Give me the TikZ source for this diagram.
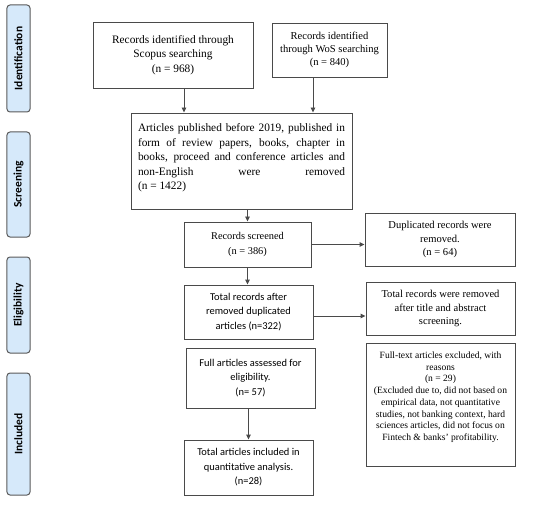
\documentclass[tikz,border=0pt]{standalone}
\usepackage{fontspec}
\setmainfont{Liberation Serif}
\newfontfamily\calfont{Carlito}
\usetikzlibrary{arrows.meta}
\definecolor{lineg}{HTML}{4A4A4A}
\definecolor{sidefill}{HTML}{D6E9FA}
\definecolor{sideline}{HTML}{5A5A5A}
\tikzset{
  box/.style={draw=lineg, line width=0.9bp, inner sep=2bp, align=center, text=black},
  side/.style={draw=sideline, line width=1bp, fill=sidefill, rounded corners=3bp, minimum height=23bp, inner sep=0pt, rotate=90, font=\calfont\bfseries\fontsize{11.5}{13}\selectfont},
  arr/.style={draw=lineg, line width=0.9bp, -{Triangle[length=5bp,width=4.5bp]}},
  serA/.style={font=\fontsize{11.4}{14.5}\selectfont},
  serB/.style={font=\fontsize{10.6}{13.2}\selectfont},
  sansA/.style={font=\calfont\fontsize{10.5}{14.5}\selectfont},
}
\begin{document}
\begin{tikzpicture}[x=1bp,y=-1bp]
\useasboundingbox (0,0) rectangle (550,529);
% side labels
\node[side, minimum width=107bp] (sid) at (18.5,58.5) {Identification};
\node[side, minimum width=105bp] (ssc) at (18.5,184.5) {Screening};
\node[side, minimum width=96bp] (sel) at (18.5,305) {Eligibility};
\node[side, minimum width=122bp] (sin) at (18.5,434) {Included};
% boxes
\node[box, serA, minimum width=160bp, minimum height=66bp] (scopus) at (173,55) {Records identified through\\Scopus searching\\(n = 968)};
\node[box, serB, minimum width=115bp, minimum height=54bp] (wos) at (329.5,50) {Records identified\\through WoS searching\\(n = 840)};
\node[box, minimum width=221bp, minimum height=96bp] (art) at (241.5,161) {};
\node[serA, text width=207bp, align=justify, anchor=north, inner sep=0pt] (artt) at ([yshift=-11bp]art.north) {Articles published before 2019, published in\linebreak form of review papers, books, chapter in\linebreak books, proceed and conference articles and\linebreak non-English were removed\linebreak (n = 1422)};
\node[box, serB, font=\fontsize{10.4}{15.5}\selectfont, minimum width=127bp, minimum height=45bp] (scr) at (247.5,244.5) {Records screened\\(n = 386)};
\node[box, serB, minimum width=150bp, minimum height=53bp] (dup) at (440,239.5) {Duplicated records were\\removed.\\(n = 64)};
\node[box, sansA, minimum width=129bp, minimum height=54bp] (tot) at (248.5,312) {Total records after\\removed duplicated\\articles (n=322)};
\node[box, serB, minimum width=149bp, minimum height=53bp] (rem) at (440.5,308.5) {Total records were removed\\after title and abstract\\screening.};
\node[box, sansA, minimum width=129bp, minimum height=60bp] (full) at (250.5,378) {Full articles assessed for\\eligibility.\\(n= 57)};
\node[box, minimum width=149bp, minimum height=123bp] (exc) at (440.5,404.5) {};
\node[font=\fontsize{9.6}{11.8}\selectfont, align=center, anchor=north, inner sep=0pt] (exct) at ([yshift=-9bp]exc.north) {Full-text articles excluded, with\\reasons\\(n = 29)\\(Excluded due to, did not based on\\empirical data, not quantitative\\studies, not banking context, hard\\sciences articles, did not focus on\\Fintech \& banks' profitability.};
\node[box, sansA, minimum width=129bp, minimum height=55bp] (inc) at (248.5,467.5) {Total articles included in\\quantitative analysis.\\(n=28)};
% arrows
\draw[arr] ([xshift=11bp]scopus.south) -- ([xshift=11bp]scopus.south |- art.north);
\draw[arr] ([xshift=-16.5bp]wos.south) -- ([xshift=-16.5bp]wos.south |- art.north);
\draw[arr] (art.south -| scr.north) -- (scr.north);
\draw[arr] (scr.east) -- (scr.east -| dup.west);
\draw[arr] (scr.south) -- (scr.south |- tot.north);
\draw[arr] ([yshift=-4bp]tot.east) -- ([yshift=-4bp]tot.east -| rem.west);
\draw[arr] (full.south -| inc.north) -- (inc.north);
\end{tikzpicture}
\end{document}
